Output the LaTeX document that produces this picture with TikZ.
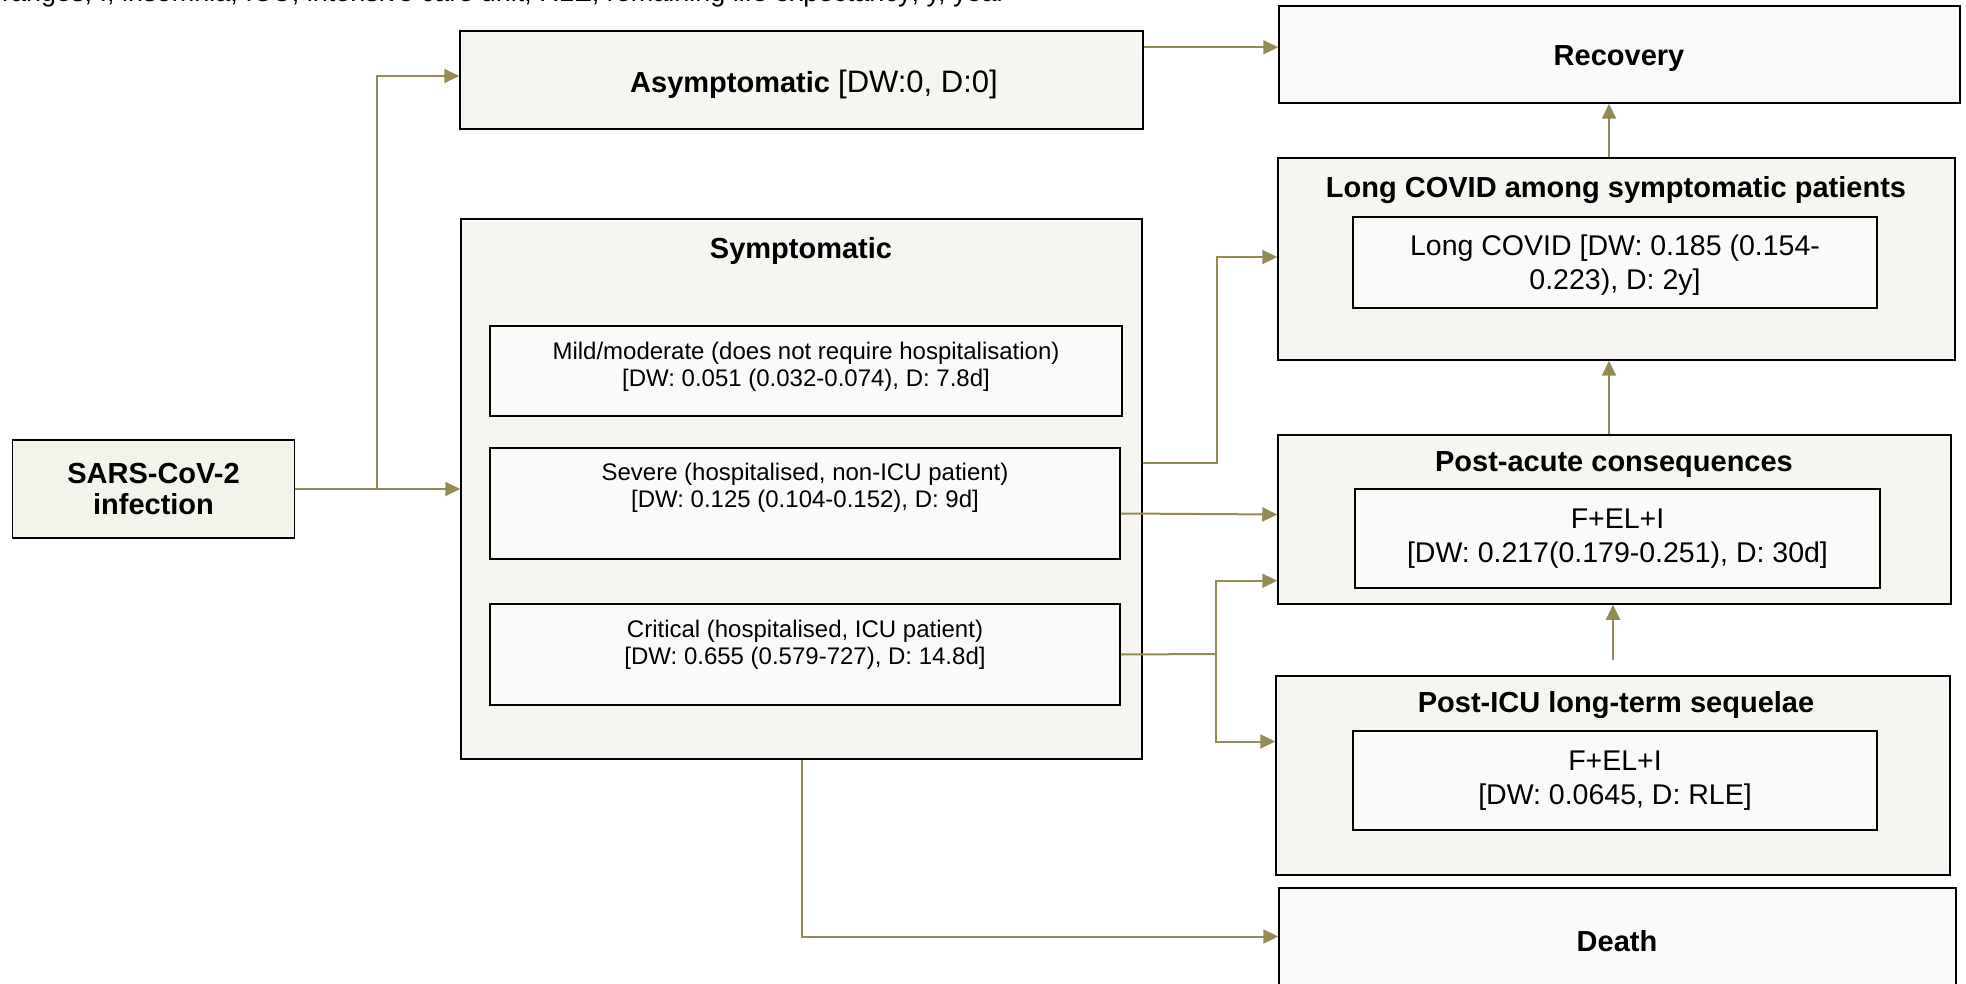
\documentclass[tikz,border=0pt]{standalone}
\usepackage{fontspec}
\setmainfont{Liberation Sans}
\usetikzlibrary{arrows.meta}
\definecolor{flowolive}{RGB}{148,138,84}
\definecolor{boxfill}{RGB}{246,245,241}
\definecolor{subfill}{RGB}{250,250,248}
\definecolor{startfill}{RGB}{243,242,235}
\begin{document}
\begin{tikzpicture}[x=1pt, y=-1pt,
  outerbox/.style={draw=black, line width=1.5pt, fill=boxfill, inner sep=0pt, align=center},
  subbox/.style={draw=black, line width=1.5pt, fill=subfill, inner sep=0pt, align=center},
  titletxt/.style={font=\fontsize{29}{31}\selectfont\bfseries, align=center},
  smalltxt/.style={font=\fontsize{24}{27.5}\selectfont, align=center},
  largetxt/.style={font=\fontsize{28.5}{34}\selectfont, align=center},
  flow/.style={draw=flowolive, line width=2pt, -{Triangle[length=15pt,width=14pt]}},
  flowline/.style={draw=flowolive, line width=2pt}]
\useasboundingbox (0,0) rectangle (1966,984);
% caption line cut at the top
\node[font=\fontsize{27}{30}\selectfont, anchor=base west, inner sep=0pt] (capt) at (2,2) {ranges; I, insomnia; ICU, intensive care unit; RLE, remaining life expectancy; y, year};
% left column
\node[outerbox, fill=startfill, titletxt, minimum width=282pt, minimum height=98pt] (sars) at (153.5,489) {SARS-CoV-2\\infection};
\node[outerbox, minimum width=683pt, minimum height=98pt] (asym) at (801.5,80) {};
\node[font=\fontsize{29}{31}\selectfont] (asymtxt) at (814,84) {{\bfseries Asymptomatic} \fontsize{31}{33}\selectfont[DW:0, D:0]};
\node[outerbox, minimum width=681pt, minimum height=540pt] (symp) at (801.5,489) {};
\node[titletxt] (symptitle) at (801,251) {Symptomatic};
\node[subbox, minimum width=632pt, minimum height=90pt] (mild) at (806,371) {};
\node[subbox, minimum width=630pt, minimum height=111pt] (severe) at (805,503.5) {};
\node[subbox, minimum width=630pt, minimum height=101pt] (crit) at (805,654.5) {};
\node[smalltxt] (mildtxt) at (806,367) {Mild/moderate (does not require hospitalisation)\\{}[DW: 0.051 (0.032-0.074), D: 7.8d]};
\node[smalltxt] (severetxt) at (805,488) {Severe (hospitalised, non-ICU patient)\\{}[DW: 0.125 (0.104-0.152), D: 9d]};
\node[smalltxt] (crittxt) at (805,645) {Critical (hospitalised, ICU patient)\\{}[DW: 0.655 (0.579-727), D: 14.8d]};
% right column
\node[subbox, minimum width=681pt, minimum height=97pt] (rec) at (1619.5,54.5) {};
\node[titletxt] (rectxt) at (1619,59) {Recovery};
\node[outerbox, minimum width=677pt, minimum height=202pt] (longc) at (1616.5,259) {};
\node[titletxt] (longctitle) at (1616,190) {Long COVID among symptomatic patients};
\node[subbox, minimum width=524pt, minimum height=91pt] (longin) at (1615,262.5) {};
\node[largetxt] (longintxt) at (1615,265) {Long COVID [DW: 0.185 (0.154-\\0.223), D: 2y]};
\node[outerbox, minimum width=673pt, minimum height=169pt] (post) at (1614.5,519.5) {};
\node[titletxt] (posttitle) at (1614,465) {Post-acute consequences};
\node[subbox, largetxt, minimum width=525pt, minimum height=99pt] (postin) at (1617.5,538.5) {F+EL+I\\{}[DW: 0.217(0.179-0.251), D: 30d]};
\node[outerbox, minimum width=674pt, minimum height=199pt] (icu) at (1613,775.5) {};
\node[titletxt] (icutitle) at (1616,705) {Post-ICU long-term sequelae};
\node[subbox, largetxt, minimum width=524pt, minimum height=99pt] (icuin) at (1615,780.5) {F+EL+I\\{}[DW: 0.0645, D: RLE]};
\node[subbox, minimum width=677pt, minimum height=97pt] (death) at (1617.5,936.5) {};
\node[titletxt] (deathtxt) at (1617,941) {Death};
% connectors
\coordinate (split) at (377,489);
\coordinate (fork) at (1216,654);
\coordinate (upline) at (1609,0);
\draw[flow] (sars.east) -- (symp.west);
\draw[flow] (split) |- ([yshift=4pt]asym.west);
\draw[flow] ([yshift=-17pt]asym.north east) -- ([yshift=-42pt]rec.north west);
\draw[flow] (longc.north -| upline) -- (rec.south -| upline);
\draw[flow] (post.north -| upline) -- (longc.south -| upline);
\draw[flow] ([yshift=15pt]icu.north) -- (icu.north |- post.south);
\draw[flow] ([yshift=26pt]symp.east) -- ++(74,0) |- ([yshift=2pt]longc.west);
\draw[flow] ([yshift=-10pt]severe.east) -- ([yshift=5pt]post.west);
\draw[flowline] (crit.east) -- (fork);
\draw[flow] (fork) |- ([yshift=24pt]post.south west);
\draw[flow] (fork) |- ([yshift=34pt]icu.west);
\draw[flow] (symp.south) |- (death.west);
\end{tikzpicture}
\end{document}
